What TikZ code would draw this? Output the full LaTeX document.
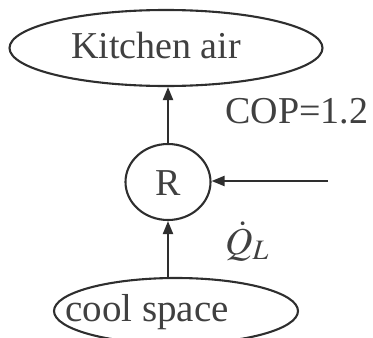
\documentclass[tikz,border=0pt]{standalone}
\usepackage{mathptmx}
\usepackage{fontspec}
\setmainfont{Liberation Serif}
\usetikzlibrary{arrows.meta,shapes.geometric}
\begin{document}
\begin{tikzpicture}[x=1pt,y=1pt,
  blob/.style={ellipse, draw=black!82, line width=2.1pt, inner sep=0pt},
  lbl/.style={font=\fontsize{38}{42}\selectfont, inner sep=0pt, text=black!75},
  flow/.style={draw=black!82, line width=2.1pt, -{Triangle[length=13pt,width=10pt]}}]
\useasboundingbox (0,0) rectangle (373,-338);
\node[blob, minimum width=313pt, minimum height=76pt] (kitchen) at (166,-48) {};
\node[lbl, anchor=base] (kt) at (156,-58) {Kitchen air};
\node[blob, minimum width=85pt, minimum height=76pt] (R) at (168,-182) {};
\node[lbl, anchor=base] (rt) at (168,-195) {R};
\node[blob, minimum width=244pt, minimum height=66pt] (cool) at (176,-311) {};
\node[lbl, anchor=base, font=\fontsize{39}{43}\selectfont] (ct) at (147,-321) {cool space};
\node[lbl, anchor=base] (cop) at (297,-123) {COP=1.2};
\node[lbl, anchor=base west] (ql) at (225,-254) {$\dot{Q}_{L}$};
\coordinate (win) at (328,-181);
\draw[flow] (R.north) -- (R.north |- kitchen.south);
\draw[flow] (R.south |- cool.north) -- (R.south);
\draw[flow] (win) -- (win -| R.east);
\end{tikzpicture}
\end{document}
